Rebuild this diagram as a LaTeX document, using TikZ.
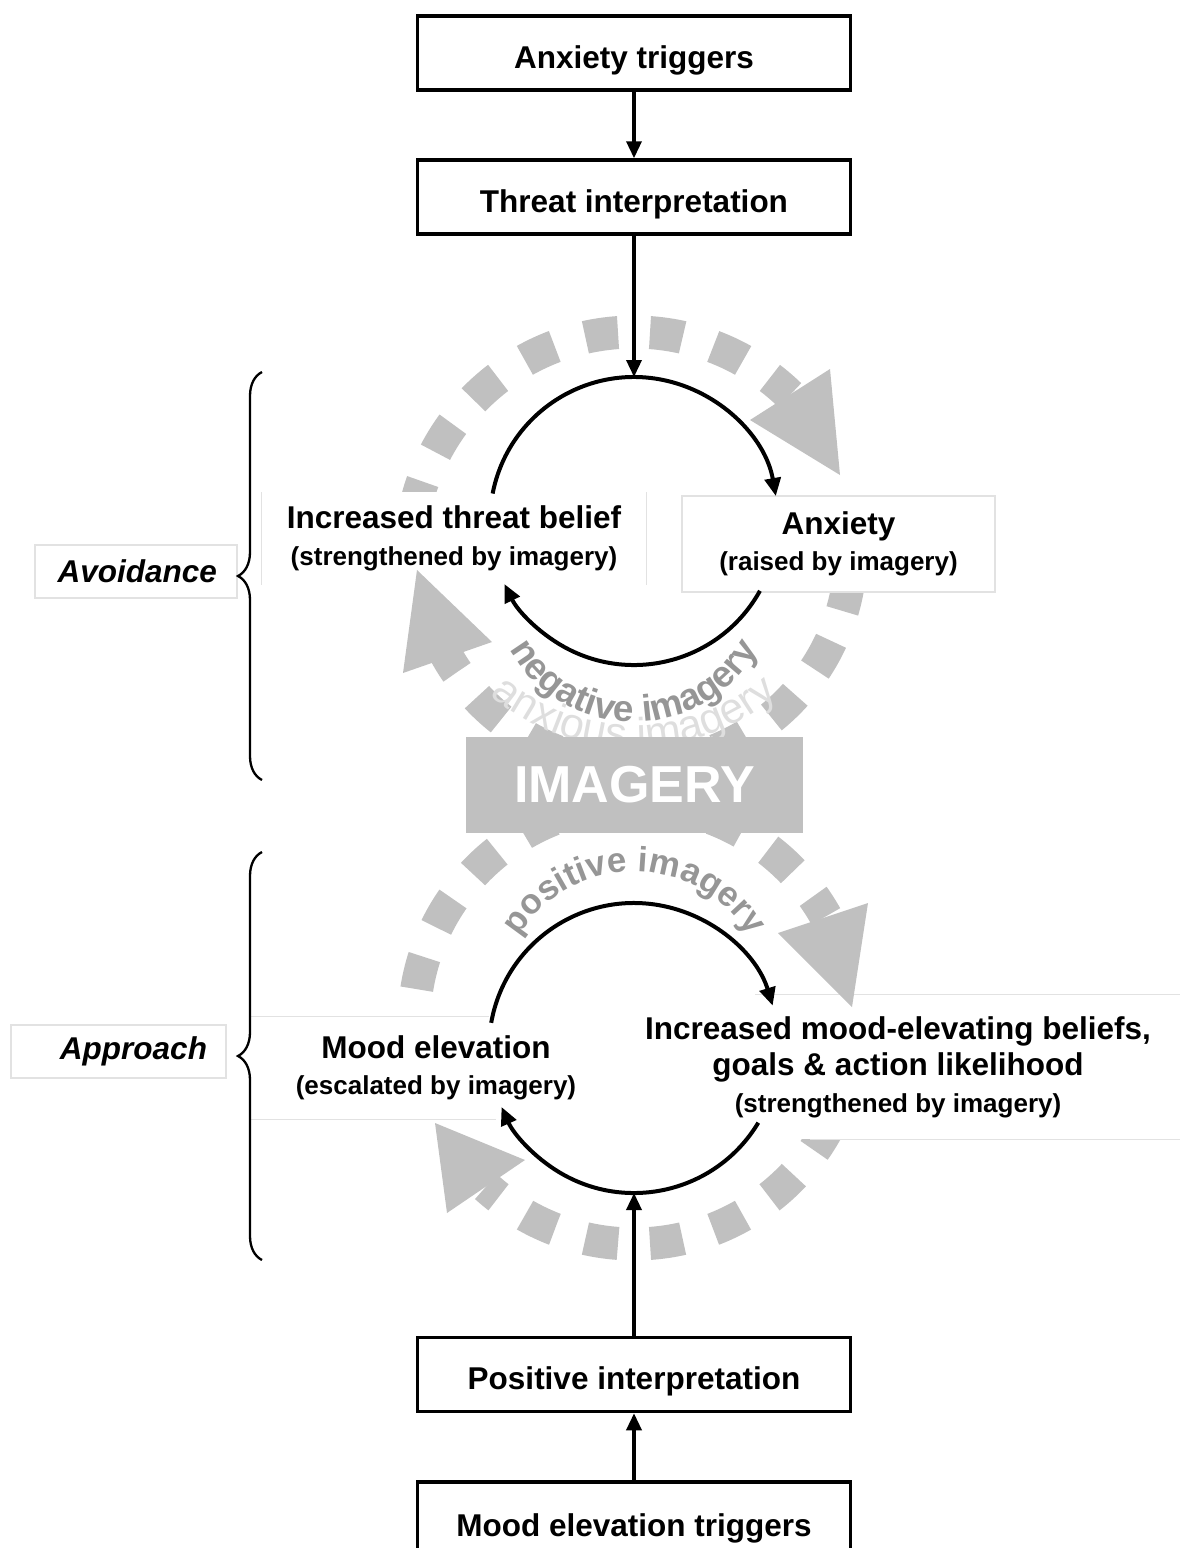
\documentclass[tikz,border=0pt]{standalone}
\usepackage{fontspec}
\setmainfont{Liberation Sans}
\usetikzlibrary{arrows.meta,calc,decorations.text,decorations.pathreplacing}
\definecolor{ringgray}{RGB}{192,192,192}
\definecolor{labelgray}{RGB}{150,150,150}
\definecolor{ghostgray}{RGB}{222,222,222}
\definecolor{framegray}{RGB}{226,226,226}
\newcommand\titlefont{\fontsize{31.5}{36.5}\selectfont\bfseries}
\newcommand\subfont{\fontsize{26}{36.5}\selectfont\bfseries}
\newcommand\imgfont{\fontsize{37}{42}\selectfont\bfseries}
\newcommand\posfont{\fontsize{35}{40}\selectfont\bfseries}
\newcommand\ghostfont{\fontsize{43}{48}\selectfont}

\begin{document}
\begin{tikzpicture}[x=1pt,y=1pt,
  flowbox/.style={draw=black, line width=3.5pt, fill=white, minimum width=433pt,
    minimum height=74pt, inner sep=0pt, text height=30pt, text depth=0pt, font=\titlefont},
  arr/.style={line width=3.5pt, -{Triangle[length=17pt,width=15pt]}},
  looparc/.style={line width=4pt, -{Triangle[length=18pt,width=16pt]}},
  ring/.style={draw=ringgray, line width=33pt, dash pattern=on 33pt off 32pt},
  ringhead/.style={fill=ringgray, draw=none},
  stage/.style={fill=white, inner sep=0pt, align=center, font=\titlefont},
  frame/.style={draw=framegray, line width=1.2pt},
  side/.style={draw=framegray, line width=1.2pt, inner sep=0pt, font=\titlefont\itshape},
  bracket/.style={decorate, decoration={brace, amplitude=24pt}, line width=2.3pt},
]
\useasboundingbox (0,0) rectangle (1179,-1548);

% centres of the dashed imagery rings
\coordinate (ua) at (634,-556);
\coordinate (ub) at (635,-550);
\coordinate (la) at (634,-1024);
\coordinate (lb) at (634,-1024);

% dashed imagery rings
\draw[ring, dash phase=22.1pt] ($(ua)+(180:224)$) arc[start angle=180, end angle=45.9, radius=224];
\draw[ring, dash phase=36.3pt] ($(ub)+(0:216)$) arc[start angle=0, end angle=-151.4, radius=216];
\draw[ring, dash phase=30pt] ($(la)+(180:220)$) arc[start angle=180, end angle=29.3, radius=220];
\draw[ring, dash phase=28.4pt] ($(lb)+(0:220)$) arc[start angle=0, end angle=-132.3, radius=220];

% faint label under the upper loop
\coordinate (gc) at (634,-526);
\path[decorate, decoration={text along path, text={|\ghostfont|anxious imagery},
  text align=center, text color=ghostgray}]
  ($(gc)+(205:222)$) arc[start angle=205, end angle=335, radius=222];

% central imagery block
\node[fill=ringgray, minimum width=337pt, minimum height=96pt, inner sep=0pt,
  text=white, font=\fontsize{52}{60}\selectfont\bfseries] (imagery) at (634.5,-785) {IMAGERY};

% stages of the two loops
\node[stage, minimum width=384pt, minimum height=93pt] (threatbelief) at (454,-538.5)
  {Increased threat belief\\{\subfont(strengthened by imagery)}};
\draw[frame] (threatbelief.north west) -- (threatbelief.south west)
  (threatbelief.north east) -- (threatbelief.south east);
\node[stage, draw=framegray, line width=1.2pt, minimum width=313pt, minimum height=96pt]
  (anxiety) at (838.5,-544) {Anxiety\\{\subfont(raised by imagery)}};
\node[stage, minimum width=370pt, minimum height=102pt] (moodelev) at (436,-1068)
  {Mood elevation\\{\subfont(escalated by imagery)}};
\draw[frame] (moodelev.north west) -- ($(moodelev.north west)+(238,0)$);
\draw[frame] (moodelev.south west) -- ($(moodelev.south west)+(245,0)$);
\node[stage, minimum width=580pt, minimum height=144pt] (moodbelief) at (898,-1067)
  {Increased mood-elevating beliefs,\\goals \& action likelihood\\{\subfont(strengthened by imagery)}};
\draw[frame] ($(moodbelief.north west)+(147,0)$) -- (moodbelief.north east);
\draw[frame] ($(moodbelief.south west)+(202,0)$) -- (moodbelief.south east);

% heads of the imagery rings
\fill[ringhead] (750,-420) -- (830,-369) -- (840,-475) -- cycle;
\fill[ringhead] (417,-570) -- (403,-673) -- (492,-642) -- cycle;
\fill[ringhead] (852,-1007) -- (778,-933) -- (868,-903) -- cycle;
\fill[ringhead] (435,-1123) -- (525,-1160) -- (447,-1213) -- cycle;

% curved ring labels
\coordinate (nc) at (634,-579);
\path[decorate, decoration={text along path, text={|\imgfont|negative imagery},
  text align=center, text color=labelgray}]
  ($(nc)+(200:143)$) arc[start angle=200, end angle=340, radius=143];
\coordinate (pc) at (634,-1008);
\path[decorate, decoration={text along path, text={|\posfont|positive imagery},
  text align=center, text color=labelgray}]
  ($(pc)+(160:136)$) arc[start angle=160, end angle=20, radius=136];

% black feedback loops
\coordinate (cu) at (634,-521);
\coordinate (cl) at (634,-1048);
\draw[looparc] ($(cu)+(169:144)$) arc[start angle=169, end angle=10, radius=144];
\draw[looparc] ($(cu)+(-29:144)$) arc[start angle=-29, end angle=-154, radius=144];
\draw[looparc] ($(cl)+(170:145)$) arc[start angle=170, end angle=17, radius=145];
\draw[looparc] ($(cl)+(-31:145)$) arc[start angle=-31, end angle=-156, radius=145];

% entry chain boxes
\node[flowbox] (anxtrig) at (634,-53) {Anxiety triggers};
\node[flowbox] (threat) at (634,-197) {Threat interpretation};
\node[flowbox] (posint) at (634,-1374.5) {Positive interpretation};
\node[flowbox, minimum height=78pt] (moodtrig) at (634,-1521) {Mood elevation triggers};

\coordinate (utop) at (634,-377);
\coordinate (lbot) at (634,-1193);
\draw[arr] (anxtrig.south) -- (threat.north);
\draw[arr] (threat.south) -- (utop);
\draw[arr] (moodtrig.north) -- (posint.south);
\draw[arr] (posint.north) -- (lbot);

% side labels with braces
\node[side, minimum width=202pt, minimum height=53pt, text width=162pt, align=right]
  (avoid) at (136,-571.5) {Avoidance};
\node[side, minimum width=215pt, minimum height=53pt, text width=177pt, align=right]
  (approach) at (118.5,-1051.5) {Approach};
\coordinate (avtop) at (262,-372);
\coordinate (avbot) at (262,-780);
\coordinate (aptop) at (262,-852);
\coordinate (apbot) at (262,-1260);
\draw[bracket] (avbot) -- (avtop);
\draw[bracket] (apbot) -- (aptop);
\end{tikzpicture}
\end{document}
